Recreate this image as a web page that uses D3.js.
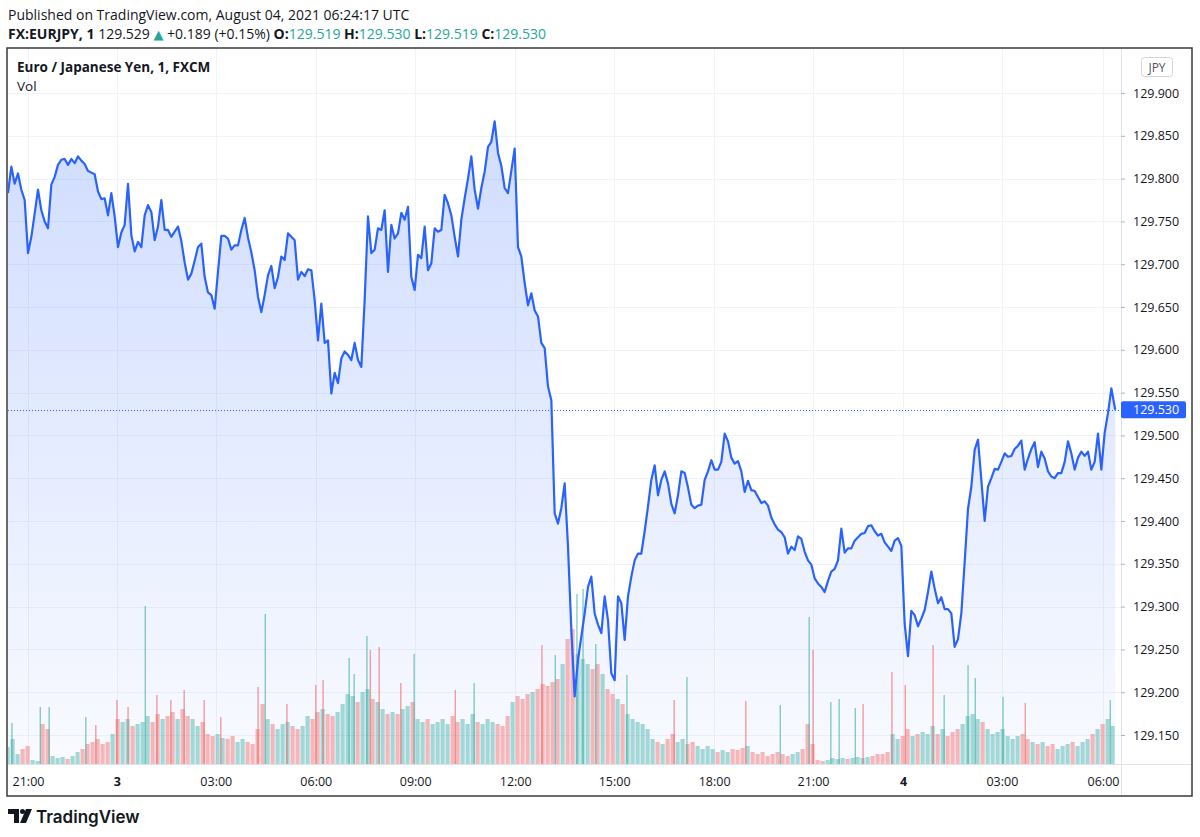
<!DOCTYPE html>
<html><head><meta charset="utf-8">
<script src="https://cdn.jsdelivr.net/npm/d3@7"></script>
<style>body{margin:0;background:#fff}svg{display:block}</style>
</head><body><svg id="c" width="1200" height="837"></svg>
<script>
// ---- data ----
const priceStartBar = -36, priceStepBars = 6;
const priceValues = [
129.783,129.814,129.794,129.806,129.787,129.775,129.713,129.732,129.759,129.787,
129.763,129.750,129.742,129.793,129.802,129.816,129.822,129.823,129.816,129.823,
129.818,129.826,129.821,129.817,129.809,129.807,129.805,129.785,129.776,129.777,
129.757,129.783,129.756,129.720,129.737,129.746,129.794,129.734,129.715,129.726,
129.720,129.757,129.769,129.761,129.728,129.744,129.775,129.740,129.740,129.732,
129.738,129.744,129.727,129.702,129.682,129.689,129.704,129.720,129.724,129.685,
129.667,129.664,129.648,129.691,129.733,129.733,129.730,129.717,129.722,129.722,
129.740,129.754,129.731,129.714,129.693,129.662,129.644,129.664,129.687,129.698,
129.672,129.685,129.709,129.705,129.736,129.732,129.728,129.682,129.691,129.686,
129.694,129.693,129.658,129.611,129.654,129.608,129.611,129.549,129.573,129.561,
129.590,129.598,129.594,129.588,129.608,129.588,129.580,129.658,129.756,129.713,
129.717,129.742,129.740,129.763,129.691,129.746,129.730,129.736,129.760,129.752,
129.767,129.685,129.670,129.711,129.707,129.744,129.693,129.701,129.742,129.738,
129.740,129.781,129.771,129.757,129.732,129.709,129.752,129.777,129.800,129.826,
129.787,129.765,129.789,129.808,129.837,129.843,129.867,129.830,129.815,129.789,
129.783,129.809,129.835,129.720,129.709,129.678,129.652,129.666,129.646,129.639,
129.608,129.602,129.557,129.541,129.409,129.397,129.415,129.444,129.370,129.273,
129.195,129.238,129.265,129.292,129.323,129.335,129.292,129.279,129.269,129.312,
129.284,129.222,129.214,129.312,129.304,129.261,129.312,129.335,129.354,129.362,
129.362,129.388,129.417,129.448,129.465,129.430,129.448,129.458,129.444,129.420,
129.409,129.430,129.458,129.456,129.439,129.419,129.415,129.418,129.419,129.448,
129.458,129.471,129.460,129.460,129.469,129.502,129.493,129.474,129.467,129.470,
129.458,129.434,129.447,129.436,129.435,129.428,129.421,129.423,129.418,129.404,
129.396,129.390,129.387,129.381,129.362,129.370,129.366,129.382,129.379,129.364,
129.354,129.349,129.333,129.327,129.323,129.317,129.330,129.341,129.344,129.354,
129.391,129.363,129.368,129.368,129.377,129.381,129.385,129.386,129.394,129.395,
129.388,129.383,129.385,129.375,129.370,129.365,129.377,129.380,129.371,129.280,
129.242,129.295,129.290,129.277,129.286,129.296,129.317,129.341,129.321,129.304,
129.311,129.297,129.297,129.292,129.253,129.262,129.292,129.352,129.414,129.440,
129.483,129.495,129.448,129.400,129.440,129.450,129.461,129.460,129.469,129.479,
129.475,129.476,129.484,129.488,129.494,129.460,129.473,129.484,129.492,129.463,
129.481,129.473,129.458,129.452,129.450,129.456,129.456,129.469,129.493,129.479,
129.460,129.474,129.481,129.476,129.481,129.460,129.469,129.502,129.460,129.503,
129.526,129.555];
const lastBar = 1957, lastClose = 129.530;

const volumeStartBar = -36, volumeStepBars = 9;
const volumeValues = [17,25,10,15,18,4,3,40,35,8,
6,7,5,8,12,15,20,22,25,20,
22,30,45,42,45,38,40,42,48,42,
50,45,48,52,45,55,48,45,38,42,
30,28,30,26,25,28,22,25,22,20,
35,60,45,40,35,40,42,38,35,38,
48,45,52,55,50,48,52,60,70,68,
62,72,75,65,62,55,50,52,50,55,
58,62,45,42,45,40,42,45,40,48,
42,45,40,50,42,40,45,42,40,38,
48,62,68,65,70,72,75,80,78,82,
85,100,125,135,110,105,100,95,100,90,
75,70,65,60,50,45,42,40,35,25,
22,20,25,30,22,25,20,22,18,15,
18,15,12,14,12,15,14,16,18,12,
10,12,8,10,12,10,8,10,12,15,
40,20,4,3,4,6,5,6,5,6,
7,6,7,8,10,10,12,30,25,28,
35,28,30,32,30,38,30,35,28,32,
35,40,48,50,45,42,35,30,32,35,
28,25,28,30,25,22,20,22,18,20,
15,18,20,22,18,22,25,30,35,40,
45,38];

const spikeBars = [-29,22,38,104,122,160,180,211,232,257,281,317,347,414,427,466,518,531,578,587,610,616,632,671,695,769,803,925,949,988,999,1022,1078,1163,1186,1292,1354,1406,1413,1445,1460,1489,1503,1555,1579,1629,1649,1692,1705,1755,1795,1948];
const spikeValues = [41,57,57,47,39,64,57,158,69,64,74,64,47,77,150,60,79,84,106,90,128,114,117,81,110,74,81,119,109,170,175,120,89,64,87,63,59,147,114,62,65,56,60,92,79,119,69,99,86,67,61,64];
const spikeUp = [1,1,1,1,0,0,0,1,0,0,0,0,0,0,1,0,0,0,1,1,1,0,0,0,1,0,1,0,1,1,1,1,1,0,1,0,1,1,0,1,1,1,0,0,0,0,1,1,1,1,0,1];

const timeTickBars = [0,160,338,518,697,877,1055,1235,1413,1575,1753,1935];
const timeTickLabels = ["21:00","3","03:00","06:00","09:00","12:00","15:00","18:00","21:00","4","03:00","06:00"];
const timeTickBold = [0,1,0,0,0,0,0,0,0,1,0,0];
const priceTicks = [129.15,129.2,129.25,129.3,129.35,129.4,129.45,129.5,129.55,129.6,129.65,129.7,129.75,129.8,129.85,129.9];

const headerLine1 = "Published on TradingView.com, August 04, 2021 06:24:17 UTC";
const symbolText = "FX:EURJPY, 1";
const lastText = "129.529";
const changeText = "+0.189 (+0.15%)";
const ohlcLabels = ["O:","H:","L:","C:"];
const ohlcValues = ["129.519","129.530","129.519","129.530"];
const paneTitle = "Euro / Japanese Yen, 1, FXCM";

// ---- layout ----
const FONT = "'Open Sans', 'Noto Sans', sans-serif";
const plotL = 8, plotR = 1121, plotT = 49, plotB = 764;
const svg = d3.select("#c");
const txt = "#131722", grid = "#f0f3fa", blue = "#2962ff", teal = "#26a69a", red = "#ef5350";

const x = d3.scaleLinear().domain([priceStartBar, lastBar]).range([plotL, plotL + (lastBar - priceStartBar) * 5 / 9]);
const y = d3.scaleLinear().domain([129.15, 129.9]).range([735, 93]);
const yv = d3.scaleLinear().domain([0, 180]).range([plotB, plotB - 180]);

const pts = priceValues.map((v, i) => ({b: priceStartBar + i * priceStepBars, v}));
pts.push({b: lastBar, v: lastClose});
const bis = d3.bisector(d => d.b).left;
function priceAt(b) {
  const i = Math.max(1, Math.min(pts.length - 1, bis(pts, b)));
  const a = pts[i - 1], c = pts[i];
  const t = Math.max(0, Math.min(1, (b - a.b) / (c.b - a.b)));
  return a.v + (c.v - a.v) * t;
}

const defs = svg.append("defs");
const g = defs.append("linearGradient").attr("id", "ag").attr("gradientUnits", "userSpaceOnUse")
  .attr("x1", 0).attr("x2", 0).attr("y1", plotT).attr("y2", plotB);
g.append("stop").attr("offset", 0).attr("stop-color", blue).attr("stop-opacity", 0.24);
g.append("stop").attr("offset", 1).attr("stop-color", blue).attr("stop-opacity", 0.03);
defs.append("clipPath").attr("id", "clip").append("rect")
  .attr("x", plotL).attr("y", plotT).attr("width", plotR - plotL).attr("height", plotB - plotT);

// header
svg.append("text").attr("x", 8).attr("y", 20).attr("font-family", FONT).attr("font-size", 14)
  .attr("fill", txt).text(headerLine1);
const h2 = svg.append("text").attr("x", 8).attr("y", 38.5).attr("font-family", FONT).attr("font-size", 14).attr("fill", txt);
h2.append("tspan").attr("font-weight", "bold").text(symbolText + " ");
h2.append("tspan").text(lastText + " ");
h2.append("tspan").attr("fill", teal).attr("font-family", "'DejaVu Sans', sans-serif").attr("font-size", 13).text("▲");
h2.append("tspan").text(" " + changeText + " ");
ohlcLabels.forEach((l, i) => {
  h2.append("tspan").attr("font-weight", "bold").text(l);
  h2.append("tspan").attr("fill", teal).text(ohlcValues[i] + (i < 3 ? " " : ""));
});

// gridlines
const gridG = svg.append("g");
gridG.selectAll(".hg").data(priceTicks).join("line")
  .attr("x1", plotL).attr("x2", plotR).attr("y1", d => Math.round(y(d)) + 0.5).attr("y2", d => Math.round(y(d)) + 0.5)
  .attr("stroke", grid).attr("stroke-width", 1);
gridG.selectAll(".vg").data(timeTickBars).join("line")
  .attr("x1", d => Math.round(x(d)) + 0.5).attr("x2", d => Math.round(x(d)) + 0.5).attr("y1", plotT).attr("y2", plotB)
  .attr("stroke", grid).attr("stroke-width", 1);

const plot = svg.append("g").attr("clip-path", "url(#clip)");

// area
const area = d3.area().x(d => x(d.b)).y0(plotB).y1(d => y(d.v));
plot.append("path").datum(pts).attr("d", area).attr("fill", "url(#ag)");

// volume
const bw = x(volumeStepBars) - x(0);
plot.selectAll(".vb").data(volumeValues).join("rect")
  .attr("x", (d, i) => x(volumeStartBar + i * volumeStepBars) - bw / 2)
  .attr("width", bw - 0.8)
  .attr("y", d => yv(d)).attr("height", d => plotB - yv(d))
  .attr("fill", (d, i) => {
    const b = volumeStartBar + i * volumeStepBars;
    return priceAt(b) >= priceAt(b - volumeStepBars) ? teal : red;
  })
  .attr("fill-opacity", 0.4);
plot.selectAll(".vs").data(spikeBars).join("rect")
  .attr("x", d => x(d) - 0.6).attr("width", 1.3)
  .attr("y", (d, i) => yv(spikeValues[i])).attr("height", (d, i) => plotB - yv(spikeValues[i]))
  .attr("fill", (d, i) => spikeUp[i] ? teal : red).attr("fill-opacity", 0.6);

// line
const line = d3.line().x(d => x(d.b)).y(d => y(d.v));
plot.append("path").datum(pts).attr("d", line).attr("fill", "none")
  .attr("stroke", blue).attr("stroke-width", 2.2).attr("stroke-linejoin", "round");

// last price dotted line
plot.append("line").attr("x1", plotL).attr("x2", plotR)
  .attr("y1", Math.round(y(lastClose)) + 0.5).attr("y2", Math.round(y(lastClose)) + 0.5)
  .attr("stroke", blue).attr("stroke-width", 1).attr("stroke-dasharray", "1,2");

// price axis
svg.append("line").attr("x1", plotR + 0.5).attr("x2", plotR + 0.5).attr("y1", plotT).attr("y2", 796)
  .attr("stroke", "#e0e3eb");
const yAxis = d3.axisRight(y).tickValues(priceTicks).tickFormat(d3.format(".3f")).tickSize(4).tickPadding(8);
const ya = svg.append("g").attr("transform", `translate(${plotR},0)`).call(yAxis);
ya.select(".domain").remove();
ya.selectAll("line").attr("stroke", "#b2b5be");
ya.selectAll("text").attr("font-family", FONT).attr("font-size", 12.5).attr("fill", txt);

// last price label
const ly = y(lastClose);
svg.append("rect").attr("x", plotR).attr("y", ly - 8.5).attr("width", 65).attr("height", 17)
  .attr("rx", 2).attr("fill", blue);
svg.append("text").attr("x", plotR + 12).attr("y", ly + 4.5).attr("font-family", FONT).attr("font-size", 12.5)
  .attr("fill", "#fff").text(d3.format(".3f")(lastClose));

// JPY badge
svg.append("rect").attr("x", 1141.5).attr("y", 57.5).attr("width", 31).attr("height", 19).attr("rx", 3)
  .attr("fill", "#fff").attr("stroke", "#d1d4dc");
svg.append("text").attr("x", 1157).attr("y", 71.5).attr("text-anchor", "middle").attr("font-family", FONT)
  .attr("font-size", 12).attr("fill", "#50535e").text("JPY");

// time axis
svg.append("line").attr("x1", plotL).attr("x2", 1191).attr("y1", plotB + 0.5).attr("y2", plotB + 0.5)
  .attr("stroke", "#e0e3eb");
const xAxis = d3.axisBottom(x).tickValues(timeTickBars).tickFormat((d, i) => timeTickLabels[i]).tickSize(0).tickPadding(13);
const xa = svg.append("g").attr("transform", `translate(0,${plotB})`).call(xAxis);
xa.select(".domain").remove();
xa.selectAll("text").attr("font-family", FONT).attr("font-size", 12.5).attr("fill", txt)
  .attr("font-weight", (d, i) => timeTickBold[i] ? "bold" : "normal");

// pane title
svg.append("text").attr("x", 17).attr("y", 72).attr("font-family", FONT).attr("font-size", 13.5)
  .attr("font-weight", "bold").attr("fill", txt).text(paneTitle);
svg.append("text").attr("x", 17).attr("y", 91).attr("font-family", FONT).attr("font-size", 13.5)
  .attr("fill", txt).text("Vol");

// frame
svg.append("rect").attr("x", 7).attr("y", 48).attr("width", 1185).attr("height", 748)
  .attr("fill", "none").attr("stroke", "#3a3a3a").attr("stroke-width", 1.5);

// logo
const lg = svg.append("g").attr("fill", txt);
lg.append("path").attr("d", "M8,809 H19 V823 H14 V814 H8 Z");
lg.append("circle").attr("cx", 22.5).attr("cy", 811.5).attr("r", 2.5);
lg.append("path").attr("d", "M26,809 H32 L26,823 H20 Z");
svg.append("text").attr("x", 36).attr("y", 823).attr("font-family", "Inter, sans-serif").attr("font-size", 17)
  .attr("font-weight", 600).attr("fill", txt).text("TradingView");
</script></body></html>
